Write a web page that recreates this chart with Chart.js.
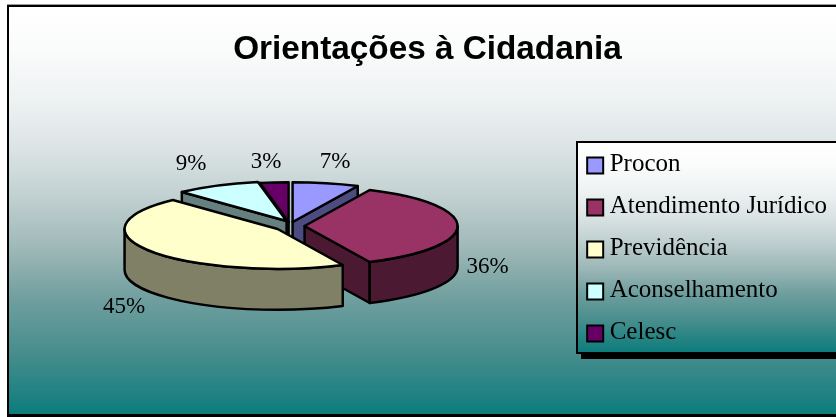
<!DOCTYPE html>
<html>
<head>
<meta charset="utf-8">
<style>
  html, body { margin: 0; padding: 0; background: #fff; }
  canvas { display: block; }
</style>
</head>
<body>
<canvas id="pieChart" width="836" height="417"></canvas>
<script src="https://cdn.jsdelivr.net/npm/chart.js@4"></script>
<script>
const categories = ['Procon', 'Atendimento Jurídico', 'Previdência', 'Aconselhamento', 'Celesc'];
const shares = [7, 36, 45, 9, 3];

const topColors = ['#9999FF', '#993366', '#FFFFCC', '#CCFFFF', '#660066'];
const sideColors = ['#4C4C80', '#4C1933', '#808066', '#668080', '#330033'];

// how far each slice is pulled out of the pie, px
const explode = [[2, -5], [14, -1], [-13, 2], [-4, -6], [-2, -5]];
// percent label position, relative to the rim point in the middle of the slice
const labelShift = [[9, -21], [30, 41], [-27, 56], [-26, -22], [-8, -20]];
const paintOrder = [4, 3, 0, 1, 2];

const FLATTEN = 0.26;
const DEPTH = 41;
// the fade is not linear, it stays pale for the first third
const fadeStops = [
  [0, '#ffffff'], [0.106, '#fafbfb'], [0.229, '#eef2f3'], [0.351, '#dbe3e4'],
  [0.474, '#bfcfcf'], [0.597, '#9db7b7'], [0.72, '#6f9e9e'], [0.843, '#4a8e8e'],
  [0.966, '#1a8080'], [1, '#0c7c7c']
];

function verticalFade(ctx, top, bottom) {
  const g = ctx.createLinearGradient(0, top, 0, bottom);
  fadeStops.forEach(([at, color]) => g.addColorStop(at, color));
  return g;
}

// frame, legend panel and the legend swatches (Chart.js keeps too wide a gap after its own)
const backdrop = {
  id: 'backdrop',
  beforeDraw(chart) {
    const ctx = chart.ctx;
    ctx.save();
    ctx.fillStyle = '#999';
    ctx.fillRect(7, 4, 829, 1);
    ctx.fillStyle = '#000';
    ctx.fillRect(7, 5, 829, 412);
    ctx.fillStyle = verticalFade(ctx, 7, 414);
    ctx.fillRect(9, 7, 827, 407);

    ctx.fillStyle = '#000';
    ctx.fillRect(581, 352, 255, 7);
    ctx.fillRect(576, 141, 260, 213);
    ctx.fillStyle = verticalFade(ctx, 143, 352);
    ctx.fillRect(578, 143, 258, 209);

    ctx.lineWidth = 2;
    ctx.strokeStyle = '#000';
    chart.legend.legendHitBoxes.forEach((box, i) => {
      const y = box.top + box.height / 2 - 7;
      ctx.fillStyle = topColors[i];
      ctx.fillRect(box.left + 1, y, 16, 16);
      ctx.strokeRect(box.left + 1, y, 16, 16);
    });
    ctx.restore();
  }
};

// the slices come out of the doughnut controller, only the painting is 3d
const pie3d = {
  id: 'pie3d',
  afterLayout(chart) {
    const legend = chart.legend;
    legend.left += 9;
    legend.top += 58;
    legend.bottom += 58;
    chart.titleBlock.left += 6;
  },
  beforeDatasetsDraw(chart) {
    const ctx = chart.ctx;
    const arcs = chart.getDatasetMeta(0).data;
    ctx.save();
    ctx.lineWidth = 2.5;
    ctx.lineJoin = 'round';
    ctx.strokeStyle = '#000';

    paintOrder.forEach(i => {
      const arc = arcs[i];
      const cx = arc.x + explode[i][0];
      const cy = arc.y + explode[i][1];
      const rx = arc.outerRadius;
      const ry = rx * FLATTEN;
      const a0 = arc.startAngle;
      const a1 = arc.endAngle;
      const rim = a => [cx + rx * Math.cos(a), cy + ry * Math.sin(a)];

      ctx.fillStyle = sideColors[i];
      // cut faces turned to the viewer
      [[a0, Math.cos(a0) < -1e-6], [a1, Math.cos(a1) > 1e-6]].forEach(([a, visible]) => {
        if (!visible) return;
        const p = rim(a);
        ctx.beginPath();
        ctx.moveTo(cx, cy);
        ctx.lineTo(p[0], p[1]);
        ctx.lineTo(p[0], p[1] + DEPTH);
        ctx.lineTo(cx, cy + DEPTH);
        ctx.closePath();
        ctx.fill();
        ctx.stroke();
      });
      // front part of the round wall
      const from = Math.max(a0, 0);
      const to = Math.min(a1, Math.PI);
      if (to > from) {
        ctx.beginPath();
        ctx.ellipse(cx, cy, rx, ry, 0, from, to);
        ctx.ellipse(cx, cy + DEPTH, rx, ry, 0, to, from, true);
        ctx.closePath();
        ctx.fill();
        ctx.stroke();
      }
      // top
      ctx.fillStyle = topColors[i];
      ctx.beginPath();
      ctx.moveTo(cx, cy);
      ctx.ellipse(cx, cy, rx, ry, 0, a0, a1);
      ctx.closePath();
      ctx.fill();
      ctx.stroke();
    });

    ctx.fillStyle = '#000';
    ctx.font = '23px "Liberation Serif"';
    ctx.textAlign = 'center';
    ctx.textBaseline = 'middle';
    shares.forEach((v, i) => {
      const arc = arcs[i];
      const mid = (arc.startAngle + arc.endAngle) / 2;
      const x = arc.x + explode[i][0] + arc.outerRadius * Math.cos(mid) + labelShift[i][0];
      const y = arc.y + explode[i][1] + arc.outerRadius * FLATTEN * Math.sin(mid) + labelShift[i][1];
      ctx.fillText(v + '%', x, y);
    });
    ctx.restore();
    return false;
  }
};

new Chart(document.getElementById('pieChart').getContext('2d'), {
  type: 'pie',
  data: {
    labels: categories,
    datasets: [{
      data: shares,
      backgroundColor: topColors,
      borderColor: '#000',
      borderWidth: 2
    }]
  },
  plugins: [backdrop, pie3d],
  options: {
    responsive: false,
    animation: false,
    layout: { padding: { left: 21, right: 8, top: 0, bottom: 36 } },
    plugins: {
      tooltip: { enabled: false },
      title: {
        display: true,
        text: 'Orientações à Cidadania',
        color: '#000',
        font: { family: '"Liberation Sans"', size: 33.3, weight: 'bold' },
        padding: { top: 30, bottom: 3 }
      },
      legend: {
        position: 'right',
        labels: {
          color: '#000',
          font: { family: '"Liberation Serif"', size: 25 },
          boxWidth: 11,
          boxHeight: 11,
          padding: 17,
          generateLabels(chart) {
            return categories.map((text, index) => ({
              text, index, fontColor: '#000', fillStyle: 'transparent', strokeStyle: 'transparent', lineWidth: 0
            }));
          }
        }
      }
    }
  }
});
</script>
</body>
</html>
